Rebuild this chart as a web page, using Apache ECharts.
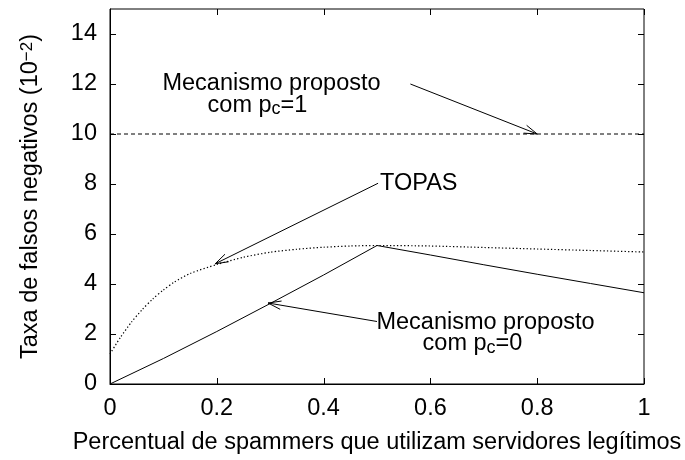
<!DOCTYPE html>
<html>
<head>
<meta charset="utf-8">
<script src="https://cdn.jsdelivr.net/npm/echarts@6/dist/echarts.min.js"></script>
<style>
html,body{margin:0;padding:0;background:#fff;}
#chart{width:685px;height:460px;}
</style>
</head>
<body>
<div id="chart"></div>
<script>
// ---- data ----
const xTicks = [0, 0.2, 0.4, 0.6, 0.8, 1];
const yTicks = [0, 2, 4, 6, 8, 10, 12, 14];

const topasX = [0, 0.02, 0.04, 0.06, 0.08, 0.1, 0.12, 0.15, 0.2, 0.25, 0.3, 0.35, 0.4, 0.45, 0.5, 0.6, 0.7, 0.8, 0.9, 1];
const topasY = [1.2, 1.88, 2.47, 2.97, 3.4, 3.76, 4.07, 4.42, 4.78, 5.07, 5.27, 5.39, 5.47, 5.52, 5.54, 5.52, 5.46, 5.4, 5.34, 5.28];

const prop0X = [0, 0.1, 0.2, 0.3, 0.4, 0.5, 0.6, 0.7, 0.8, 0.9, 1];
const prop0Y = [0, 1.02, 2.1, 3.22, 4.36, 5.54, 5.16, 4.77, 4.39, 4.02, 3.65];

const prop1X = [0, 1];
const prop1Y = [10, 10];

const labelTop1 = 'Mecanismo proposto';
const labelTop2 = 'com p{sub|c}=1';
const labelTopas = 'TOPAS';
const labelLow1 = 'Mecanismo proposto';
const labelLow2 = 'com p{sub|c}=0';

// ---- chart ----
const FONT = '"Liberation Sans", Arial, Helvetica, sans-serif';
const FS = 23.5;
const TICK_LEN = 6;
const zip = (xs, ys) => xs.map((x, i) => [x, ys[i]]);

const arrows = [
  [0.5625, 12.0, 0.8, 10.0],
  [0.502, 8.03, 0.197, 4.81],
  [0.5, 2.5, 0.296, 3.24]
];
const texts = [
  [0.3024, 12.0, labelTop1, 'center'],
  [0.2762, 11.14, labelTop2, 'center'],
  [0.5056, 8.01, labelTopas, 'left'],
  [0.7032, 2.45, labelLow1, 'center'],
  [0.6788, 1.61, labelLow2, 'center']
];
const rich = {
  sub: { fontSize: 18, lineHeight: 8, verticalAlign: 'bottom', fontFamily: FONT, color: '#000' }
};

const chart = echarts.init(document.getElementById('chart'), null, { renderer: 'canvas' });

function axLine() {
  return { show: true, onZero: false, lineStyle: { color: '#000', width: 1 } };
}
const TSTYLE = { stroke: '#000', lineWidth: 1 };

chart.setOption({
  animation: false,
  backgroundColor: '#fff',
  textStyle: { fontFamily: FONT, color: '#000' },
  grid: { left: 110, right: 41, top: 9, bottom: 74, containLabel: false, show: true, borderColor: '#000', borderWidth: 1, backgroundColor: 'transparent' },
  xAxis: {
    type: 'value', min: 0, max: 1, interval: 0.2, position: 'bottom',
    axisLine: axLine(), axisTick: { show: false }, splitLine: { show: false },
    axisLabel: {
      show: true, margin: 13, fontSize: FS, fontFamily: FONT, color: '#000',
      customValues: xTicks,
      formatter: v => String(+(+v).toFixed(1))
    },
    name: 'Percentual de spammers que utilizam servidores legítimos',
    nameLocation: 'middle', nameGap: 47,
    nameTextStyle: { fontSize: FS, fontFamily: FONT, color: '#000' }
  },
  yAxis: {
    type: 'value', min: 0, max: 15, interval: 2, position: 'left',
    axisLine: axLine(), axisTick: { show: false }, splitLine: { show: false },
    axisLabel: {
      show: true, margin: 13, fontSize: FS, fontFamily: FONT, color: '#000',
      customValues: yTicks,
      formatter: v => String(v)
    },
    name: 'Taxa de falsos negativos (10{sup|\u22122})',
    nameLocation: 'middle', nameGap: 67, nameRotate: 90,
    nameTextStyle: {
      fontSize: FS, fontFamily: FONT, color: '#000',
      rich: { sup: { fontSize: 17, lineHeight: 8, verticalAlign: 'top', fontFamily: FONT, color: '#000' } }
    }
  },
  series: [
    {
      name: 'Mecanismo proposto com pc=1', type: 'line', data: zip(prop1X, prop1Y),
      showSymbol: false, symbol: 'none',
      lineStyle: { color: '#000', width: 1, type: [4, 3] }
    },
    {
      name: 'TOPAS', type: 'line', data: zip(topasX, topasY),
      showSymbol: false, symbol: 'none', smooth: 0.25,
      lineStyle: { color: '#000', width: 1.2, type: [1.3, 2.2] }
    },
    {
      name: 'Mecanismo proposto com pc=0', type: 'line', data: zip(prop0X, prop0Y),
      showSymbol: false, symbol: 'none',
      lineStyle: { color: '#000', width: 1 }
    },
    {
      // inward ticks on bottom and top (mirror), placed through the x scale
      type: 'custom', data: xTicks.map(v => [v, 0]), encode: { x: 0, y: 1 }, silent: true, z: 4,
      renderItem: function (params, api) {
        const r = params.coordSys;
        const p = api.coord([api.value(0), 0]);
        const x = Math.round(p[0]) + 0.5;
        const yb = r.y + r.height, yt = r.y;
        return {
          type: 'group', children: [
            { type: 'line', shape: { x1: x, y1: yb, x2: x, y2: yb - TICK_LEN }, style: TSTYLE },
            { type: 'line', shape: { x1: x, y1: yt, x2: x, y2: yt + TICK_LEN }, style: TSTYLE }
          ]
        };
      }
    },
    {
      // inward ticks on left and right (mirror), placed through the y scale
      type: 'custom', data: yTicks.map(v => [0, v]), encode: { x: 0, y: 1 }, silent: true, z: 4,
      renderItem: function (params, api) {
        const r = params.coordSys;
        const p = api.coord([0, api.value(1)]);
        const y = Math.round(p[1]) + 0.5;
        const xl = r.x, xr = r.x + r.width;
        return {
          type: 'group', children: [
            { type: 'line', shape: { x1: xl, y1: y, x2: xl + TICK_LEN, y2: y }, style: TSTYLE },
            { type: 'line', shape: { x1: xr, y1: y, x2: xr - TICK_LEN, y2: y }, style: TSTYLE }
          ]
        };
      }
    },
    {
      type: 'custom', data: arrows, encode: { x: [0, 2], y: [1, 3] }, silent: true, z: 5,
      renderItem: function (params, api) {
        const p1 = api.coord([api.value(0), api.value(1)]);
        const p2 = api.coord([api.value(2), api.value(3)]);
        const dx = p1[0] - p2[0], dy = p1[1] - p2[1];
        const len = Math.sqrt(dx * dx + dy * dy);
        const ux = dx / len, uy = dy / len;
        const L = 13, W = 4.2;
        const bx = p2[0] + ux * L, by = p2[1] + uy * L;
        const h1 = [bx - uy * W, by + ux * W];
        const h2 = [bx + uy * W, by - ux * W];
        return {
          type: 'group',
          children: [
            { type: 'line', shape: { x1: p1[0], y1: p1[1], x2: p2[0], y2: p2[1] }, style: { stroke: '#000', lineWidth: 1 } },
            { type: 'polyline', shape: { points: [h1, p2, h2] }, style: { stroke: '#000', lineWidth: 1, fill: null } }
          ]
        };
      }
    },
    {
      type: 'custom', data: texts, encode: { x: 0, y: 1 }, silent: true, z: 6,
      renderItem: function (params, api) {
        const item = texts[params.dataIndex];
        const p = api.coord([item[0], item[1]]);
        return {
          type: 'text', x: p[0], y: p[1],
          style: {
            text: item[2], align: item[3], verticalAlign: 'middle',
            fontSize: FS, fontFamily: FONT, fill: '#000', lineHeight: 26,
            rich: rich
          }
        };
      }
    }
  ]
});
</script>
</body>
</html>
